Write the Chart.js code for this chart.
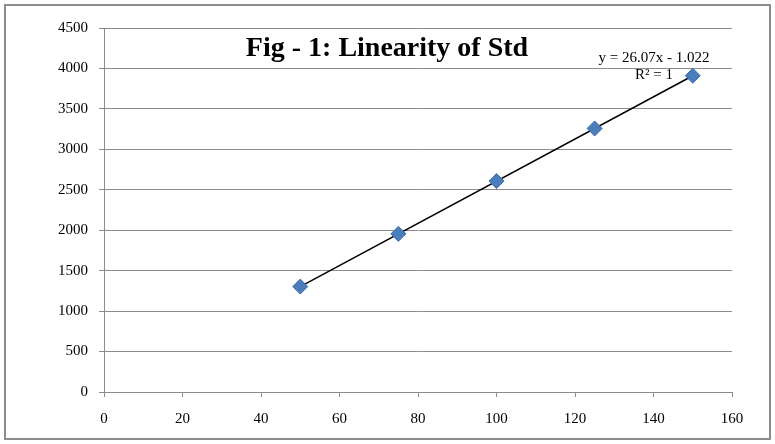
<!DOCTYPE html>
<html>
<head>
<meta charset="utf-8">
<script src="https://cdn.jsdelivr.net/npm/chart.js@4/dist/chart.umd.min.js"></script>
<style>
    html, body { margin: 0; padding: 0; background: #fff; }
    #wrap { width: 775px; height: 444px; }
</style>
</head>
<body>
<div id="wrap"><canvas id="chart" width="775" height="444"></canvas></div>
<script>
// ===== Data =====
const concentrations = [50, 75, 100, 125, 150];
const peakAreas = [1303, 1955, 2607, 3258, 3910];

// trendline as printed on the chart
const trendSlope = 26.07;
const trendIntercept = -1.022;
const trendLabel = 'y = 26.07x - 1.022';
const r2Label = 'R² = 1';
const chartTitle = 'Fig - 1: Linearity of Std';

const xTicks = [0, 20, 40, 60, 80, 100, 120, 140, 160];
const yTicks = [0, 500, 1000, 1500, 2000, 2500, 3000, 3500, 4000, 4500];

const serif = "'Liberation Serif', 'Times New Roman', serif";

function buildPoints() {
    return concentrations.map((x, i) => ({ x: x, y: peakAreas[i] }));
}

function buildTrend() {
    const xMin = Math.min(...concentrations);
    const xMax = Math.max(...concentrations);
    return [xMin, xMax].map(x => ({ x: x, y: trendSlope * x + trendIntercept }));
}

// Border frame + texts inside the plot
const decorPlugin = {
    id: 'decor',
    beforeDraw(chart) {
        const ctx = chart.ctx;
        ctx.save();
        ctx.fillStyle = '#fff';
        ctx.fillRect(0, 0, chart.width, chart.height);
        ctx.strokeStyle = '#8c8c8c';
        ctx.lineWidth = 2;
        ctx.strokeRect(5, 5, chart.width - 10, chart.height - 10);
        ctx.restore();
    },
    afterDraw(chart) {
        const ctx = chart.ctx;
        ctx.save();
        ctx.fillStyle = '#000';
        ctx.textBaseline = 'middle';

        // Title
        ctx.font = 'bold 28px ' + serif;
        ctx.textAlign = 'center';
        ctx.fillText(chartTitle, 387, 49);

        // Equation
        ctx.font = '15px ' + serif;
        ctx.fillText(trendLabel, 654, 58);
        ctx.textAlign = 'right';
        ctx.fillText(r2Label, 673, 75);
        ctx.restore();
    }
};

const ctx = document.getElementById('chart').getContext('2d');

new Chart(ctx, {
    type: 'scatter',
    data: {
        datasets: [
            {
                label: 'Trend',
                data: buildTrend(),
                showLine: true,
                borderColor: '#000',
                borderWidth: 1.5,
                pointRadius: 0,
                order: 2
            },
            {
                label: 'Std',
                data: buildPoints(),
                pointStyle: 'rectRot',
                pointRadius: 7.5,
                pointBackgroundColor: '#4A7EBB',
                pointBorderColor: '#3C6EA8',
                pointBorderWidth: 1,
                order: 1
            }
        ]
    },
    options: {
        responsive: false,
        animation: false,
        layout: {
            padding: { left: 20, right: 43, top: 28, bottom: 8 }
        },
        plugins: {
            legend: { display: false },
            tooltip: { enabled: false },
            title: { display: false }
        },
        scales: {
            x: {
                type: 'linear',
                min: 0,
                max: 160,
                afterBuildTicks(scale) {
                    scale.ticks = xTicks.map(v => ({ value: v }));
                },
                afterFit(scale) {
                    scale.height = 44;
                },
                grid: {
                    drawOnChartArea: false,
                    drawTicks: true,
                    tickLength: 5,
                    color: '#8c8c8c'
                },
                border: { color: '#8c8c8c', width: 1 },
                ticks: {
                    color: '#000',
                    padding: 13,
                    maxRotation: 0,
                    font: { family: serif, size: 15 }
                }
            },
            y: {
                type: 'linear',
                min: 0,
                max: 4500,
                afterBuildTicks(scale) {
                    scale.ticks = yTicks.map(v => ({ value: v }));
                },
                afterFit(scale) {
                    scale.width = 84;
                },
                grid: {
                    color: '#8c8c8c',
                    drawTicks: true,
                    tickLength: 5
                },
                border: { color: '#8c8c8c', width: 1 },
                ticks: {
                    color: '#000',
                    padding: 11,
                    callback: v => String(v),
                    font: { family: serif, size: 15 }
                }
            }
        }
    },
    plugins: [decorPlugin]
});
</script>
</body>
</html>
